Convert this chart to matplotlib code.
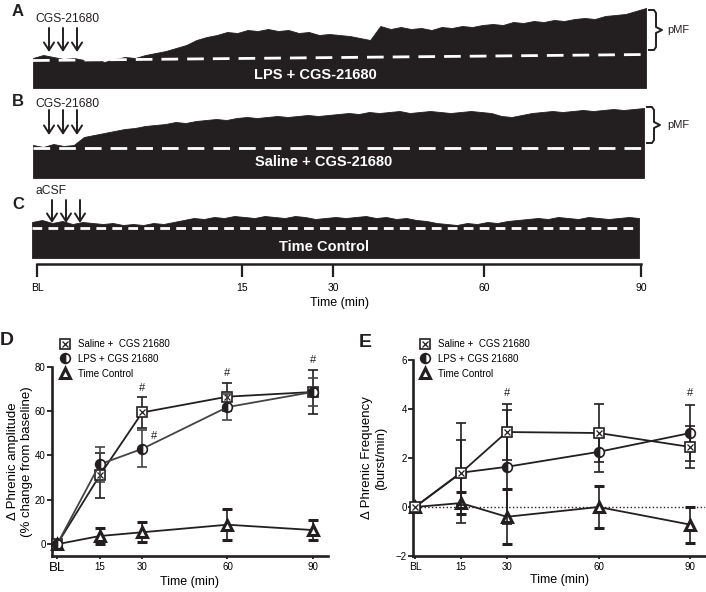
import matplotlib
matplotlib.use('Agg')
import matplotlib.pyplot as plt
from matplotlib.lines import Line2D
from matplotlib.patches import FancyArrowPatch
from matplotlib.legend_handler import HandlerTuple

plt.rcParams['font.family'] = ['Liberation Sans', 'DejaVu Sans']
plt.rcParams['lines.scale_dashes'] = False

INK = '#231f20'
W, H = 706, 592

# integrated phrenic neurograms: top of the burst envelope, px above the trace floor
lps_trace = [30, 33, 31, 29, 30, 28, 29, 26, 29, 31,
             30, 33, 35, 37, 40, 43, 48, 51, 53, 56,
             55, 58, 57, 59, 57, 58, 55, 56, 53, 54,
             53, 52, 50, 48, 62, 59, 61, 59, 60, 58,
             61, 60, 62, 61, 63, 64, 63, 66, 65, 67,
             66, 68, 67, 69, 70, 69, 72, 73, 74, 77, 80]
saline_trace = [33, 31, 34, 32, 33, 41, 43, 45, 47, 49,
                50, 52, 53, 54, 56, 55, 57, 58, 59, 58,
                60, 61, 60, 61, 62, 61, 62, 63, 62, 63,
                64, 65, 64, 66, 65, 66, 67, 65, 66, 67,
                66, 65, 66, 67, 66, 65, 62, 61, 63, 65,
                66, 67, 66, 67, 68, 67, 68, 69, 68, 69, 70]
control_trace = [36, 38, 35, 37, 34, 36, 35, 34, 35, 33,
                 34, 33, 35, 34, 36, 38, 40, 39, 41, 40,
                 42, 41, 40, 42, 41, 40, 42, 41, 39, 40,
                 41, 40, 41, 42, 40, 41, 39, 40, 38, 37,
                 35, 34, 33, 35, 34, 36, 35, 37, 38, 39,
                 40, 39, 41, 40, 39, 41, 40, 39, 40, 41, 40]

scale_labels = ['BL', '15', '30', '60', '90']
scale_at = [0, 205, 296, 447, 604]

# group data (mean, SEM)
time_min = [0, 15, 30, 60, 90]
time_lab = ['BL', '15', '30', '60', '90']
amp_sal = [0, 31, 59.4, 66.5, 68.6]
amp_sal_sem = [0, 10, 7, 6.3, 10]
amp_lps = [0, 36, 43, 61.8, 68.6]
amp_lps_sem = [0, 8, 8.3, 5.8, 6.5]
amp_tc = [0, 3.7, 5.4, 8.8, 6.4]
amp_tc_sem = [0, 3.8, 4.5, 7, 4.6]
freq_sal = [0, 1.39, 3.06, 3.02, 2.45]
freq_sal_sem = [0, 2.05, 1.15, 1.2, 0.87]
freq_lps = [0, 1.4, 1.64, 2.25, 3.02]
freq_lps_sem = [0, 1.32, 2.32, 0.84, 1.16]
freq_tc = [0, 0.16, -0.4, 0.0, -0.72]
freq_tc_sem = [0, 0.46, 1.13, 0.87, 0.73]
amp_sig = [(30, 70.5), (34, 48.6), (60, 77), (90, 83.2)]
freq_sig = [(30, 4.65), (90, 4.65)]
legend_labels = ['Saline +  CGS 21680', 'LPS + CGS 21680', 'Time Control']

fig = plt.figure(figsize=(W / 100, H / 100), dpi=100)


def px_axes(x0, y0, x1, y1):
    return fig.add_axes([x0 / W, 1 - y1 / H, (x1 - x0) / W, (y1 - y0) / H])


def fpt(x, y):
    return (x / W, 1 - y / H)


def neurogram(rect, env, dash_y, dash_pat, label, label_at):
    x0, y0, x1, y1 = rect
    ax = px_axes(x0, y0, x1, y1)
    n = len(env)
    xs = [i + 0.5 for i in range(n)]
    ax.fill_between(xs, 0, env, color=INK, lw=0.6, edgecolor=INK)
    ax.plot([0.5, n - 0.5], dash_y, color='white', lw=2, dashes=dash_pat)
    ax.text(0.5 + label_at[0] * (n - 1), label_at[1], label, color='white', fontsize=10.5,
            weight='bold', ha='center', va='center')
    ax.set_xlim(0.5, n - 0.5)
    ax.set_ylim(0, y1 - y0)
    ax.axis('off')


def arrows(xs, ytop, ybot):
    for x in xs:
        fig.add_artist(FancyArrowPatch(fpt(x, ytop), fpt(x, ybot), transform=fig.transFigure,
                                       arrowstyle='->,head_length=0.4,head_width=0.26',
                                       mutation_scale=14, lw=1.4, color=INK,
                                       shrinkA=0, shrinkB=0))


def brace(x, ytop, ybot):
    ym = (ytop + ybot) / 2
    pts = [(x - 7, ytop), (x - 2, ytop), (x, ytop + 3), (x, ym - 3), (x + 6, ym),
           (x, ym + 3), (x, ybot - 3), (x - 2, ybot), (x - 7, ybot)]
    fig.add_artist(Line2D([p[0] / W for p in pts], [1 - p[1] / H for p in pts],
                          transform=fig.transFigure, color=INK, lw=1.4))


# ---- A, B, C traces
neurogram((33, 0, 646, 88), lps_trace, [27.5, 33.5], (12, 6.5), 'LPS + CGS-21680', (0.46, 13))
neurogram((33, 92, 644, 178), saline_trace, [30, 30], (12, 6.5), 'Saline + CGS-21680', (0.475, 16))
neurogram((32, 185, 639, 258), control_trace, [30, 30], (7, 4.5), 'Time Control', (0.481, 11))

arrows([49, 63, 77], 28, 52)
arrows([49, 63, 77], 110, 135)
arrows([52, 66, 80], 200, 223)
brace(656, 10, 50)
brace(654, 107, 143)
fig.text(*fpt(667, 30), 'pMF', fontsize=8, va='center', color=INK)
fig.text(*fpt(667, 125), 'pMF', fontsize=8, va='center', color=INK)
fig.text(*fpt(35, 13), 'CGS-21680', fontsize=8.7, va='top', color=INK)
fig.text(*fpt(35, 98), 'CGS-21680', fontsize=8.7, va='top', color=INK)
fig.text(*fpt(35, 185), 'aCSF', fontsize=8.7, va='top', color=INK)
for letter, x, y, fs in [('A', 12, 4, 12), ('B', 12, 94, 12), ('C', 12, 197, 12),
                         ('D', 0, 332, 14), ('E', 359, 334, 14)]:
    fig.text(*fpt(x, y), letter, fontsize=fs, weight='bold', va='top', color=INK)

ax = px_axes(37, 263, 641, 264)
ax.set_xlim(0, 604)
ax.set_xticks(scale_at, scale_labels)
ax.set_yticks([])
ax.tick_params(axis='x', direction='out', length=9.4, width=1.6, labelsize=7.5, pad=4, color=INK)
for s in ['left', 'right', 'top']:
    ax.spines[s].set_visible(False)
ax.spines['bottom'].set_linewidth(1.8)
ax.spines['bottom'].set_color(INK)
ax.set_xlabel('Time (min)', fontsize=9, labelpad=3)
ax.patch.set_visible(False)


# ---- D, E summary plots
def marker_style(kind):
    if kind == 'sal':
        return dict(marker='s', ms=6.8, mfc='white', mec=INK, mew=1.2)
    if kind == 'lps':
        return dict(marker='o', ms=7, fillstyle='left', mfc=INK, mfcalt='white', mec=INK, mew=1.2)
    return dict(marker='^', ms=7, mfc='white', mec=INK, mew=2.2)


def series(ax, y, err, kind, color, z):
    eb = ax.errorbar(time_min, y, yerr=err, color=color, lw=1.3, capsize=3.5,
                     elinewidth=1.2, capthick=1.2, zorder=z, **marker_style(kind))
    line, caps, bars = eb.lines
    for a in [line, *caps, *bars]:
        a.set_clip_on(False)
    if kind == 'sal':
        ax.plot(time_min, y, ls='none', marker='x', ms=4, mew=0.9, color=INK,
                zorder=z + 0.1, clip_on=False)


def style_axes(ax, ylabel, bl_size, pad):
    for s in ['right', 'top']:
        ax.spines[s].set_visible(False)
    for s in ['left', 'bottom']:
        ax.spines[s].set_linewidth(1.9)
        ax.spines[s].set_color(INK)
    ax.set_xticks(time_min, time_lab)
    ax.tick_params(axis='y', length=3.5, width=1.3, labelsize=7, pad=1, color=INK)
    ax.tick_params(axis='x', length=2.5, width=1.3, labelsize=7, pad=1.5, color=INK)
    ax.get_xticklabels()[0].set_fontsize(bl_size)
    ax.set_xlabel('Time (min)', fontsize=9, labelpad=2)
    ax.set_ylabel(ylabel, fontsize=9.5, labelpad=pad)
    ax.patch.set_visible(False)


sal_h = (Line2D([], [], ls='none', **marker_style('sal')),
         Line2D([], [], marker='x', ms=4, mew=0.9, color=INK, ls='none'))
lps_h = Line2D([], [], ls='none', **marker_style('lps'))
tc_h = Line2D([], [], ls='none', **marker_style('tc'))


def legend(x, y):
    fig.legend([sal_h, lps_h, tc_h], legend_labels, loc='upper left',
               bbox_to_anchor=fpt(x, y), frameon=False, fontsize=7, handlelength=1.0,
               handletextpad=0.9, labelspacing=0.5, borderpad=0, borderaxespad=0,
               handler_map={tuple: HandlerTuple(ndivide=1)})


axd = px_axes(52, 366.7, 328, 556)
series(axd, amp_tc, amp_tc_sem, 'tc', INK, 3)
series(axd, amp_sal, amp_sal_sem, 'sal', INK, 4)
series(axd, amp_lps, amp_lps_sem, 'lps', '#444444', 5)
axd.set_xlim(-1.8, 95.4)
axd.set_ylim(-5.3, 80)
axd.set_yticks([0, 20, 40, 60, 80])
style_axes(axd, 'Δ Phrenic amplitude\n(% change from baseline)', 9.5, 1.5)
for x, y in amp_sig:
    axd.text(x, y, '#', fontsize=8, ha='center', va='center', color=INK, clip_on=False)
legend(60, 339)

axe = px_axes(413, 360, 705, 556)
axe.axhline(0, color=INK, lw=1, ls=':', zorder=1)
series(axe, freq_tc, freq_tc_sem, 'tc', INK, 3)
series(axe, freq_lps, freq_lps_sem, 'lps', INK, 4)
series(axe, freq_sal, freq_sal_sem, 'sal', INK, 5)
axe.set_xlim(-0.65, 94.8)
axe.set_ylim(-2, 6)
axe.set_yticks([-2, 0, 2, 4, 6])
style_axes(axe, 'Δ Phrenic Frequency\n(burst/min)', 7.5, 6)
for x, y in freq_sig:
    axe.text(x, y, '#', fontsize=8, ha='center', va='center', color=INK, clip_on=False)
legend(420, 339)

fig.savefig('out.png', dpi=100)
